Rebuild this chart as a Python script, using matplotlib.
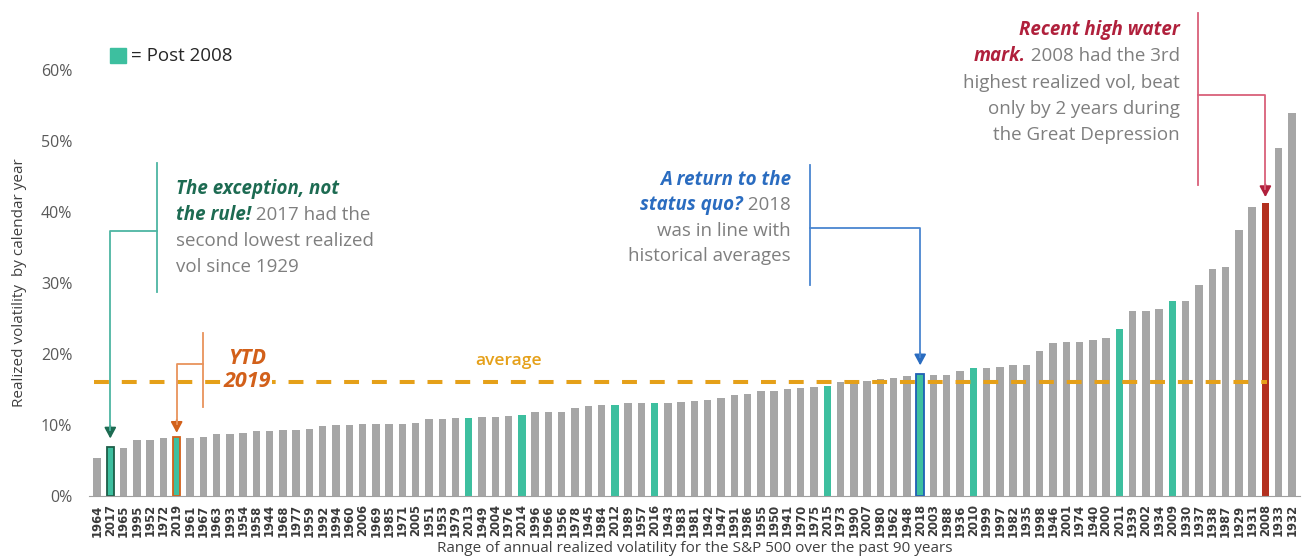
import matplotlib.pyplot as plt
import matplotlib.patches as mpatches
import numpy as np

# calendar years sorted by realized vol (low -> high)
years = ['1964', '2017', '1965', '1995', '1952', '1972', '2019', '1961', '1967', '1963',
         '1993', '1954', '1958', '1944', '1968', '1977', '1959', '1992', '1994', '1960',
         '2006', '1969', '1985', '1971', '2005', '1951', '1953', '1979', '2013', '1949',
         '2004', '1976', '2014', '1996', '1966', '1956', '1978', '1945', '1984', '2012',
         '1989', '1957', '2016', '1943', '1983', '1981', '1942', '1947', '1991', '1986',
         '1955', '1950', '1941', '1970', '1975', '2015', '1973', '1990', '2007', '1980',
         '1962', '1948', '2018', '2003', '1988', '1936', '2010', '1999', '1997', '1982',
         '1935', '1998', '1946', '2001', '1974', '1940', '2000', '2011', '1939', '2002',
         '1934', '2009', '1930', '1937', '1938', '1987', '1929', '1931', '2008', '1933',
         '1932']
vols = [5.3, 6.9, 6.8, 7.9, 7.9, 8.1, 8.3, 8.1, 8.3, 8.7,
        8.7, 8.9, 9.1, 9.1, 9.3, 9.3, 9.5, 9.9, 10.0, 10.0,
        10.1, 10.1, 10.1, 10.2, 10.3, 10.8, 10.8, 11.0, 11.0, 11.1,
        11.1, 11.3, 11.4, 11.8, 11.9, 11.9, 12.4, 12.7, 12.8, 12.8,
        13.1, 13.1, 13.1, 13.1, 13.3, 13.4, 13.5, 13.8, 14.2, 14.4,
        14.8, 14.8, 15.1, 15.2, 15.3, 15.5, 16.1, 16.2, 16.2, 16.5,
        16.6, 16.9, 17.2, 17.0, 17.1, 17.6, 18.0, 18.0, 18.1, 18.4,
        18.4, 20.4, 21.5, 21.7, 21.7, 22.0, 22.3, 23.5, 26.1, 26.1,
        26.3, 27.4, 27.4, 29.7, 32.0, 32.3, 37.5, 40.7, 41.3, 49.0,
        53.9]
average = 16.0

GRAY = '#a6a6a6'
TEAL = '#3dbf9f'
RED = '#b3301f'
BODY = '#7f7f7f'
FONT = 'Open Sans'
NOTE_SIZE = 13.5

colors = []
for y in years:
    if y == '2008':
        colors.append(RED)
    elif int(y) > 2008:
        colors.append(TEAL)
    else:
        colors.append(GRAY)
edges = {'2017': '#1d5e48', '2019': '#d2601a', '2018': '#1f5fb5'}

fig = plt.figure(figsize=(13.02, 5.59), dpi=100)
ax = fig.add_axes([0.0684, 0.1127, 0.93, 0.7621])

x = np.arange(len(years))
bars = ax.bar(x, vols, width=0.56, color=colors, zorder=2)
for b, y in zip(bars, years):
    if y in edges:
        b.set_edgecolor(edges[y])
        b.set_linewidth(1.3)

ax.set_xlim(-0.6, len(years) - 0.4)
ax.set_ylim(0, 60)
ax.set_yticks(np.arange(0, 61, 10))
ax.set_yticklabels(['%d%%' % v for v in range(0, 61, 10)])
ax.set_xticks(x)
ax.set_xticklabels(years, rotation=90, fontsize=8.4, fontweight='bold', color='#3a3a3a')
ax.tick_params(axis='x', length=0, pad=6)
ax.tick_params(axis='y', length=0, pad=12, labelsize=11.5, labelcolor='#595959')
for lab in ax.get_yticklabels():
    lab.set_family(FONT)
for s in ['top', 'right', 'left']:
    ax.spines[s].set_visible(False)
ax.spines['bottom'].set_color('#a0a0a0')

ax.set_ylabel('Realized volatility  by calendar year', fontsize=11, color='#404040',
              family=FONT, labelpad=10)
ax.set_xlabel('Range of annual realized volatility for the S&P 500 over the past 90 years',
              fontsize=11, color='#404040', family=FONT, labelpad=3)

# average line
ax.plot([-0.25, years.index('2008') + 0.1], [average, average], color='#e5a019',
        lw=2.9, dashes=(3.7, 3.2), zorder=3)
ax.text(31.0, 19.0, 'average', color='#e5a019', fontsize=12.5, fontweight='semibold',
        family=FONT, ha='center', va='center')


def rich_line(xp, yp, parts, ha='left', size=NOTE_SIZE):
    # parts: list of (text, color, emphasised)
    seq = parts if ha == 'left' else list(reversed(parts))
    anchor = (1, 0.5) if ha == 'left' else (0, 0.5)
    prev = None
    for txt, col, em in seq:
        kw = dict(color=col, fontsize=size, family=FONT, annotation_clip=False,
                  fontweight='bold' if em else 'normal',
                  fontstyle='italic' if em else 'normal', ha=ha, va='center')
        if prev is None:
            prev = ax.annotate(txt, (xp, yp), **kw)
        else:
            prev = ax.annotate(txt, anchor, xycoords=prev, **kw)


def connector(vx, vy0, vy1, hy, bar, tip, line_col, head_col):
    ax.plot([vx, vx], [vy0, vy1], color=line_col, lw=1.3, clip_on=False, zorder=4)
    ax.plot([vx, bar, bar], [hy, hy, tip + 1.2], color=line_col, lw=1.3,
            clip_on=False, zorder=4)
    ax.annotate('', xy=(bar, tip), xytext=(bar, tip + 1.8), annotation_clip=False,
                arrowprops=dict(arrowstyle='-|>,head_length=0.65,head_width=0.35',
                                color=head_col, lw=1.3, shrinkA=0, shrinkB=0))


# 2017 callout
GREEN = '#1d6b52'
connector(4.55, 46.9, 28.7, 37.3, years.index('2017'), vols[years.index('2017')] + 1.2,
          '#4db5a2', GREEN)
rich_line(5.95, 43.2, [('The exception, not', GREEN, True)])
rich_line(5.95, 39.55, [('the rule!', GREEN, True), (' 2017 had the', BODY, False)])
rich_line(5.95, 35.9, [('second lowest realized', BODY, False)])
rich_line(5.95, 32.25, [('vol since 1929', BODY, False)])

# YTD 2019 callout
ORANGE = '#d2601a'
connector(7.98, 23.0, 12.5, 18.6, years.index('2019'), vols[years.index('2019')] + 0.6,
          '#e8935c', ORANGE)
ax.text(11.3, 19.4, 'YTD', color=ORANGE, fontsize=15.5, fontweight='bold',
        fontstyle='italic', family=FONT, ha='center', va='center')
ax.text(11.3, 16.1, '2019', color=ORANGE, fontsize=15.5, fontweight='bold',
        fontstyle='italic', family=FONT, ha='center', va='center', zorder=5,
        bbox=dict(facecolor='white', edgecolor='none', pad=1))

# 2018 callout
BLUE = '#2a6cc0'
connector(53.7, 46.6, 29.7, 37.7, years.index('2018'), vols[years.index('2018')] + 1.2,
          '#4a86d0', BLUE)
rich_line(52.26, 44.5, [('A return to the', BLUE, True)], ha='right')
rich_line(52.26, 41.0, [('status quo?', BLUE, True), (' 2018', BODY, False)], ha='right')
rich_line(52.26, 37.3, [('was in line with', BODY, False)], ha='right')
rich_line(52.26, 33.8, [('historical averages', BODY, False)], ha='right')

# 2008 callout
CRIMSON = '#b0203c'
connector(82.9, 68.0, 43.8, 56.5, years.index('2008'), vols[years.index('2008')] + 0.8,
          '#d9607a', CRIMSON)
rich_line(81.55, 65.6, [('Recent high water', CRIMSON, True)], ha='right')
rich_line(81.55, 62.0, [('mark.', CRIMSON, True), (' 2008 had the 3rd', BODY, False)], ha='right')
rich_line(81.55, 58.2, [('highest realized vol, beat', BODY, False)], ha='right')
rich_line(81.55, 54.5, [('only by 2 years during', BODY, False)], ha='right')
rich_line(81.55, 50.8, [('the Great Depression', BODY, False)], ha='right')

# legend key
fig.patches.append(mpatches.Rectangle((0.0845, 0.8873), 0.0123, 0.0268, color=TEAL,
                                      transform=fig.transFigure))
fig.text(0.1005, 0.8998, '= Post 2008', fontsize=13.5, color='#262626', family=FONT,
         va='center', ha='left')

fig.savefig('out.png', dpi=100)
